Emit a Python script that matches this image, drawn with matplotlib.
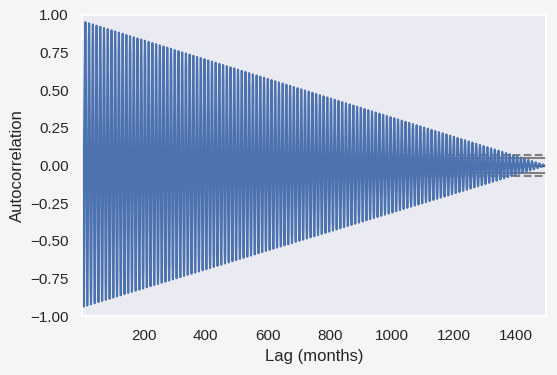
import numpy as np
import matplotlib
matplotlib.use("Agg")
import matplotlib.pyplot as plt
import seaborn as sns

# typical monthly seasonal cycle (Jan..Dec), series length in months
monthly_cycle = [-2.0, -0.5, 4.5, 10.0, 14.5, 17.5, 18.5, 18.0, 15.5, 10.5, 4.5, 0.0]
n_months = 1497
# share of variance explained by the seasonal cycle
seasonal_share = 0.96

sns.set_theme(style="dark")
plt.rcParams["font.family"] = ["Liberation Sans", "DejaVu Sans"]

series = np.resize(np.array(monthly_cycle), n_months)
n = len(series)
mean = series.mean()
c0 = np.sum((series - mean) ** 2) / n
lags = np.arange(1, n + 1)
acf = np.array([np.sum((series[:n - h] - mean) * (series[h:] - mean)) / n / c0 for h in lags])
acf = acf * seasonal_share

fig, ax = plt.subplots(figsize=(5.57, 3.75), dpi=100)
fig.patch.set_facecolor("#f5f5f5")
fig.subplots_adjust(left=82 / 557, right=546 / 557, top=1 - 15 / 375, bottom=1 - 316 / 375)

z95 = 1.959963984540054
z99 = 2.5758293035489004
ax.axhline(y=z99 / np.sqrt(n), linestyle="--", color="grey")
ax.axhline(y=z95 / np.sqrt(n), color="grey")
ax.axhline(y=0.0, color="black")
ax.axhline(y=-z95 / np.sqrt(n), color="grey")
ax.axhline(y=-z99 / np.sqrt(n), linestyle="--", color="grey")
ax.plot(lags, acf, color="#4c72b0")

ax.set_xlim(1, n)
ax.set_ylim(-1.0, 1.0)
ax.set_xlabel("Lag (months)")
ax.set_ylabel("Autocorrelation")

fig.savefig("out.png", dpi=100, facecolor=fig.get_facecolor())
